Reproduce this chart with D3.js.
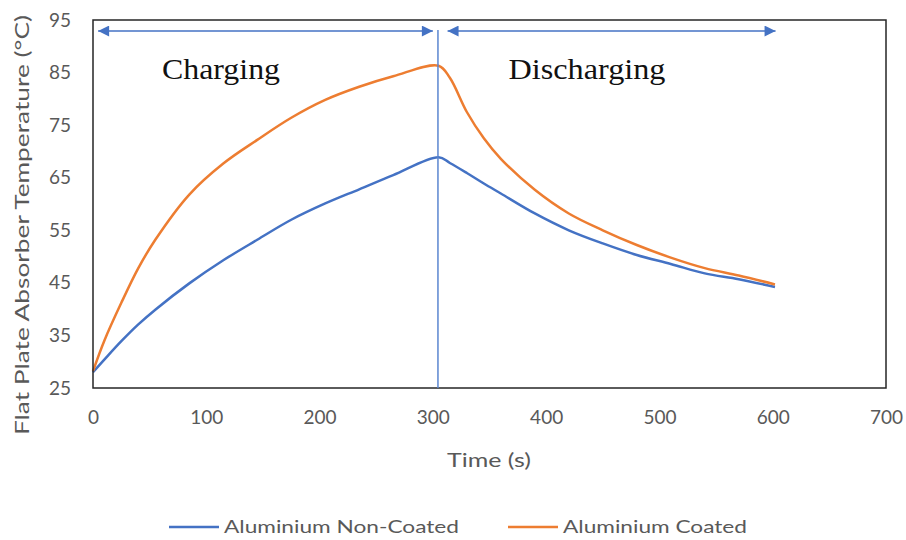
<!DOCTYPE html>
<html>
<head>
  <meta charset="utf-8">
  <title>Flat Plate Absorber Temperature</title>
  <script src="https://d3js.org/d3.v7.min.js"></script>
  <style>
    body { margin: 0; background: #fff; }
  </style>
</head>
<body>
  <svg width="906" height="540"></svg>
  <script>
    // Data
    var time = [0, 10, 25, 40, 55, 85, 115, 145, 175, 205, 235, 265, 305,
                315, 330, 345, 360, 390, 420, 450, 480, 510, 540, 570, 602];
    var nonCoated = [28, 30.4, 33.9, 37.1, 39.9, 44.9, 49.3, 53.2, 57.0, 60.1, 62.8, 65.5, 68.9,
                     67.8, 65.9, 63.9, 62, 58.2, 55.0, 52.5, 50.3, 48.6, 46.8, 45.7, 44.2];
    var coated = [28.2, 34, 41.2, 47.8, 53.2, 61.8, 67.7, 72.2, 76.4, 79.8, 82.3, 84.3, 86.3,
                  84, 77.5, 72.5, 68.6, 62.7, 58.2, 55.0, 52.2, 49.8, 47.8, 46.4, 44.7];
    var xTicks = [0, 100, 200, 300, 400, 500, 600, 700];
    var yTicks = [25, 35, 45, 55, 65, 75, 85, 95];
    var seriesNames = ["Aluminium Non-Coated", "Aluminium Coated"];
    var colors = ["#4472C4", "#ED7D31"];
    var switchTime = 304.5;

    var svg = d3.select("svg");
    var font = "Lato, 'Open Sans', sans-serif";

    var x = d3.scaleLinear().domain([0, 700]).range([93, 886]);
    var y = d3.scaleLinear().domain([25, 95]).range([388, 20]);

    // x axis labels
    var xAxis = svg.append("g")
      .attr("transform", "translate(0,410)")
      .call(d3.axisBottom(x).tickValues(xTicks).tickSize(0).tickPadding(0));
    xAxis.select(".domain").remove();
    xAxis.selectAll("text")
      .attr("dy", "0.75em")
      .style("font-family", font)
      .style("font-size", "19px")
      .attr("fill", "#595959");

    // y axis labels
    var yAxis = svg.append("g")
      .attr("transform", "translate(71,0)")
      .call(d3.axisLeft(y).tickValues(yTicks).tickSize(0).tickPadding(0));
    yAxis.select(".domain").remove();
    yAxis.selectAll("text")
      .style("font-family", font)
      .style("font-size", "19px")
      .attr("fill", "#595959");

    // series lines
    var line = d3.line()
      .x(function(d) { return x(d[0]); })
      .y(function(d) { return y(d[1]); })
      .curve(d3.curveCatmullRom.alpha(0.5));

    [nonCoated, coated].forEach(function(vals, i) {
      svg.append("path")
        .datum(time.map(function(t, j) { return [t, vals[j]]; }))
        .attr("fill", "none")
        .attr("stroke", colors[i])
        .attr("stroke-width", 2.5)
        .attr("d", line);
    });

    // plot frame
    svg.append("rect")
      .attr("x", x(0))
      .attr("y", y(95))
      .attr("width", x(700) - x(0))
      .attr("height", y(25) - y(95))
      .attr("fill", "none")
      .attr("stroke", "#262626")
      .attr("stroke-width", 1.5);

    // vertical separator
    svg.append("line")
      .attr("x1", x(switchTime)).attr("x2", x(switchTime))
      .attr("y1", y(93.1)).attr("y2", y(25))
      .attr("stroke", "#5B86D0")
      .attr("stroke-width", 1.5);

    // double headed arrows
    var defs = svg.append("defs");
    ["start", "end"].forEach(function(k) {
      defs.append("marker")
        .attr("id", "arrow-" + k)
        .attr("viewBox", "0 0 10 10")
        .attr("refX", k == "end" ? 10 : 0)
        .attr("refY", 5)
        .attr("markerWidth", 15)
        .attr("markerHeight", 11)
        .attr("markerUnits", "userSpaceOnUse")
        .attr("orient", "auto")
        .append("path")
        .attr("d", k == "end" ? "M0,0 L10,5 L0,10 Z" : "M10,0 L0,5 L10,10 Z")
        .attr("fill", "#4472C4");
    });
    var arrows = [[4.5, 300], [313, 602.5]];
    arrows.forEach(function(a) {
      svg.append("line")
        .attr("x1", x(a[0])).attr("x2", x(a[1]))
        .attr("y1", y(92.9)).attr("y2", y(92.9))
        .attr("stroke", "#4472C4")
        .attr("stroke-width", 1.5)
        .attr("marker-start", "url(#arrow-start)")
        .attr("marker-end", "url(#arrow-end)");
    });

    // phase labels
    var phases = [["Charging", 221, 118], ["Discharging", 587, 157]];
    phases.forEach(function(p) {
      svg.append("text")
        .attr("x", p[1])
        .attr("y", 79)
        .attr("text-anchor", "middle")
        .attr("textLength", p[2])
        .attr("lengthAdjust", "spacingAndGlyphs")
        .style("font-family", "'Liberation Serif', 'Times New Roman', serif")
        .style("font-size", "30px")
        .attr("fill", "#111")
        .text(p[0]);
    });

    // axis titles
    svg.append("text")
      .attr("x", 489)
      .attr("y", 467)
      .attr("text-anchor", "middle")
      .attr("textLength", 84)
      .attr("lengthAdjust", "spacingAndGlyphs")
      .style("font-family", font)
      .style("font-size", "19px")
      .attr("fill", "#595959")
      .text("Time (s)");

    svg.append("text")
      .attr("transform", "translate(29,225) rotate(-90)")
      .attr("text-anchor", "middle")
      .attr("textLength", 420)
      .attr("lengthAdjust", "spacingAndGlyphs")
      .style("font-family", font)
      .style("font-size", "19px")
      .attr("fill", "#595959")
      .text("Flat Plate Absorber Temperature (°C)");

    // legend
    var legendX = [169, 508];
    var legendLen = [235, 184];
    seriesNames.forEach(function(name, i) {
      var g = svg.append("g").attr("transform", "translate(" + legendX[i] + ",527)");
      g.append("line")
        .attr("x1", 0).attr("x2", 50)
        .attr("stroke", colors[i])
        .attr("stroke-width", 2.5);
      g.append("text")
        .attr("x", 55)
        .attr("dy", "0.35em")
        .attr("textLength", legendLen[i])
        .attr("lengthAdjust", "spacingAndGlyphs")
        .style("font-family", font)
        .style("font-size", "18px")
        .attr("fill", "#595959")
        .text(name);
    });
  </script>
</body>
</html>
